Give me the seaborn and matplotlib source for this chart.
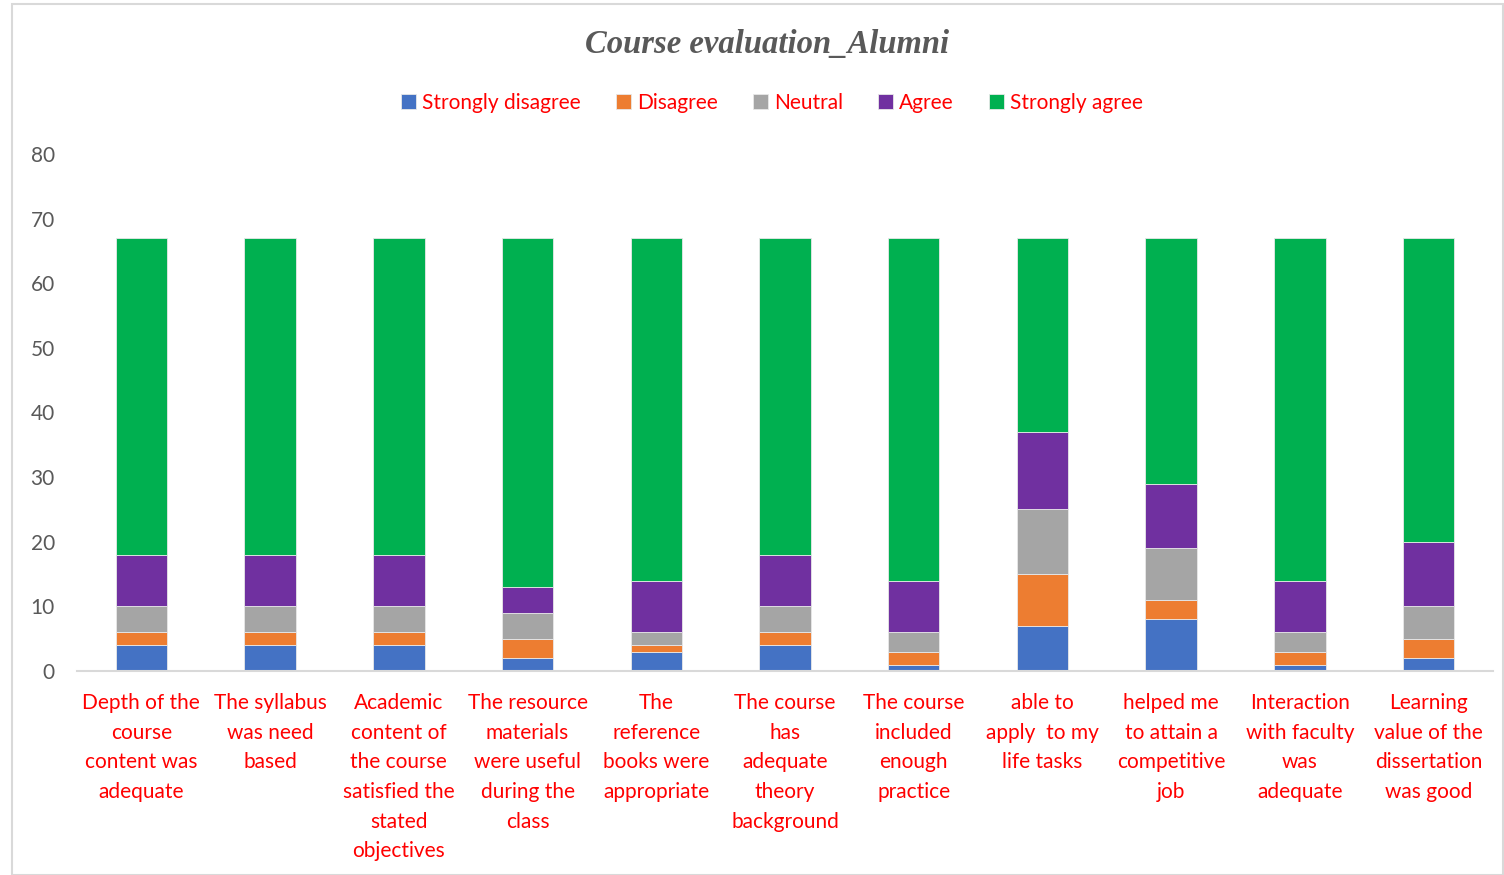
import matplotlib
matplotlib.use("Agg")
import matplotlib.pyplot as plt
import seaborn as sns
import numpy as np
from matplotlib.patches import Rectangle

categories = [
    "Depth of the\ncourse\ncontent was\nadequate",
    "The syllabus\nwas need\nbased",
    "Academic\ncontent of\nthe course\nsatisfied the\nstated\nobjectives",
    "The resource\nmaterials\nwere useful\nduring the\nclass",
    "The\nreference\nbooks were\nappropriate",
    "The course\nhas\nadequate\ntheory\nbackground",
    "The course\nincluded\nenough\npractice",
    "able to\napply  to my\nlife tasks",
    "helped me\nto attain a\ncompetitive\njob",
    "Interaction\nwith faculty\nwas\nadequate",
    "Learning\nvalue of the\ndissertation\nwas good",
]

series_names = ["Strongly disagree", "Disagree", "Neutral", "Agree", "Strongly agree"]
strongly_disagree = [4, 4, 4, 2, 3, 4, 1, 7, 8, 1, 2]
disagree = [2, 2, 2, 3, 1, 2, 2, 8, 3, 2, 3]
neutral = [4, 4, 4, 4, 2, 4, 3, 10, 8, 3, 5]
agree = [8, 8, 8, 4, 8, 8, 8, 12, 10, 8, 10]
strongly_agree = [49, 49, 49, 54, 53, 49, 53, 30, 38, 53, 47]

colors = ["#4472C4", "#ED7D31", "#A5A5A5", "#7030A0", "#00B050"]
yticks = [0, 10, 20, 30, 40, 50, 60, 70, 80]

sns.set_theme(style="white")
plt.rcParams['font.family'] = ['Lato', 'DejaVu Sans']

fig = plt.figure(figsize=(15.04, 8.75), dpi=100)
ax = fig.add_axes([77/1504, 1-671/875, (1493-77)/1504, (671-154)/875])

series = [strongly_disagree, disagree, neutral, agree, strongly_agree]
x_idx = list(range(len(categories)))
bottom = np.zeros(len(categories))
for name, vals, col in zip(series_names, series, colors):
    sns.barplot(x=x_idx, y=vals, bottom=bottom, color=col, width=0.4,
                ax=ax, label=name, edgecolor="#e8e8e8", linewidth=0.6,
                saturation=1)
    bottom = bottom + np.array(vals)

ax.set_xlim(-0.5, len(categories) - 0.5)
ax.set_ylim(0, 80)
ax.set_yticks(yticks)
ax.set_yticklabels([str(t) for t in yticks], color="#595959", fontsize=15)
ax.set_xticks(x_idx)
ax.set_xticklabels(categories, color="#FF0000", fontsize=15, linespacing=1.6)
ax.tick_params(axis="x", length=0, pad=16)
ax.tick_params(axis="y", length=0, pad=16)
for s in ["top", "right", "left"]:
    ax.spines[s].set_visible(False)
ax.spines["bottom"].set_color("#d9d9d9")
ax.spines["bottom"].set_linewidth(1.5)
ax.grid(False)
ax.set_xlabel("")
ax.set_ylabel("")
if ax.get_legend():
    ax.get_legend().remove()

handles, labels = ax.get_legend_handles_labels()
leg = fig.legend(handles, labels, loc="center", bbox_to_anchor=(772/1504, 1-103/875),
                 ncol=5, frameon=False, fontsize=15, handlelength=0.7, handleheight=0.7,
                 handletextpad=0.3, columnspacing=1.7)
for t in leg.get_texts():
    t.set_color("#FF0000")

fig.text(767/1504, 1-44/875, "Course evaluation_Alumni", ha="center", va="center",
         fontsize=23.5, fontweight="bold", fontstyle="italic", color="#595959",
         family=["Liberation Serif", "DejaVu Serif"])

fig.patches.append(Rectangle((12/1504, 0.0), (1503-12)/1504, 1-4/875,
                             transform=fig.transFigure, fill=False,
                             edgecolor="#d9d9d9", linewidth=1.5))

fig.savefig("out.png", dpi=100, facecolor="white")
